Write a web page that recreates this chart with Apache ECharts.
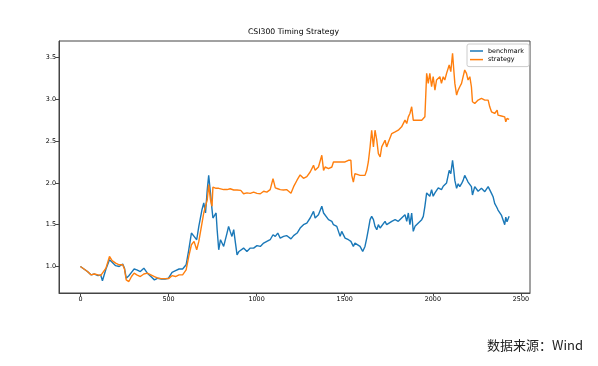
<!DOCTYPE html>
<html>
<head>
<meta charset="utf-8">
<script src="https://cdn.jsdelivr.net/npm/echarts@6/dist/echarts.min.js"></script>
<style>
html,body{margin:0;padding:0;background:#fff;}
#chart{width:598px;height:366px;}
</style>
</head>
<body>
<div id="chart"></div>
<script>
const titleText = 'CSI300 Timing Strategy';
const sourceText = '数据来源：Wind';
const seriesNames = ['benchmark', 'strategy'];
const xTicks = [0, 500, 1000, 1500, 2000, 2500];
const yTicks = [1.0, 1.5, 2.0, 2.5, 3.0, 3.5];

const days = [0,20,40,60,80,100,115,125,145,165,180,200,220,240,250,260,275,290,305,320,340,360,380,400,420,440,460,480,500,520,540,560,580,600,615,630,645,660,672,690,700,710,720,728,738,747,752,760,770,776,785,795,813,832,841,850,860,870,880,889,900,910,926,945,964,983,1002,1021,1040,1058,1077,1093,1106,1120,1134,1153,1170,1181,1195,1210,1230,1247,1266,1285,1304,1323,1332,1351,1370,1380,1389,1408,1427,1436,1455,1474,1483,1502,1521,1535,1540,1549,1558,1568,1587,1602,1615,1625,1634,1644,1653,1663,1672,1682,1691,1701,1710,1729,1738,1748,1767,1786,1804,1823,1842,1852,1861,1870,1880,1889,1899,1918,1937,1946,1955,1965,1974,1983,1993,2002,2012,2021,2031,2040,2049,2059,2068,2078,2093,2102,2112,2119,2125,2135,2144,2153,2163,2172,2181,2191,2200,2210,2219,2225,2238,2257,2276,2295,2314,2323,2333,2342,2351,2361,2365,2370,2380,2389,2399,2408,2414,2421,2433];

const benchmark = [1.00,0.97,0.94,0.90,0.91,0.89,0.90,0.83,0.97,1.08,1.05,1.01,1.00,1.03,0.98,0.86,0.89,0.93,0.97,0.96,0.94,0.98,0.92,0.88,0.84,0.86,0.85,0.85,0.86,0.93,0.95,0.97,0.97,1.02,1.20,1.40,1.36,1.32,1.48,1.68,1.76,1.64,1.92,2.09,1.88,1.68,1.58,1.56,1.64,1.44,1.20,1.32,1.24,1.40,1.48,1.42,1.36,1.44,1.28,1.14,1.18,1.20,1.22,1.18,1.22,1.22,1.25,1.24,1.28,1.30,1.32,1.38,1.36,1.40,1.34,1.36,1.37,1.38,1.33,1.37,1.40,1.46,1.50,1.52,1.58,1.66,1.58,1.62,1.72,1.64,1.62,1.56,1.54,1.50,1.48,1.36,1.42,1.34,1.32,1.30,1.30,1.24,1.28,1.26,1.24,1.18,1.24,1.34,1.44,1.56,1.60,1.56,1.48,1.44,1.50,1.46,1.48,1.54,1.50,1.50,1.54,1.56,1.54,1.58,1.62,1.54,1.64,1.50,1.64,1.42,1.48,1.52,1.56,1.60,1.72,1.88,1.90,1.84,1.92,1.84,1.88,1.90,1.94,1.96,1.92,1.96,1.97,2.00,2.15,2.11,2.27,2.15,2.03,1.935,1.99,1.955,1.99,2.03,2.09,2.05,2.01,2.03,1.955,1.855,1.955,1.90,1.935,1.895,1.955,1.975,1.875,1.835,1.755,1.755,1.70,1.675,1.655,1.615,1.635,1.50,1.59,1.535,1.60];

const strategy = [1.00,0.97,0.94,0.90,0.91,0.90,0.89,0.88,0.98,1.12,1.07,1.04,1.02,1.02,0.97,0.84,0.82,0.88,0.92,0.90,0.88,0.91,0.92,0.90,0.88,0.86,0.855,0.855,0.855,0.89,0.88,0.90,0.90,0.96,1.12,1.26,1.30,1.20,1.30,1.52,1.64,1.72,1.80,1.98,1.80,1.72,1.95,1.935,1.935,1.935,1.935,1.93,1.92,1.92,1.90,1.93,1.92,1.915,1.915,1.915,1.915,1.91,1.87,1.88,1.875,1.89,1.875,1.87,1.90,1.89,1.92,2.05,1.94,1.93,1.92,1.915,1.92,1.915,1.875,1.955,2.035,2.095,2.055,2.075,2.13,2.21,2.15,2.19,2.33,2.15,2.19,2.17,2.19,2.25,2.25,2.25,2.25,2.25,2.27,2.27,2.09,2.01,2.11,2.09,2.09,2.09,2.09,2.15,2.25,2.43,2.63,2.43,2.63,2.51,2.35,2.31,2.43,2.51,2.43,2.49,2.59,2.61,2.63,2.67,2.75,2.71,2.79,2.83,2.91,2.75,2.75,2.75,2.75,2.75,2.79,3.31,3.19,3.31,3.15,3.27,3.11,3.23,3.25,3.27,3.19,3.27,3.23,3.31,3.41,3.33,3.55,3.35,3.19,3.05,3.11,3.15,3.19,3.27,3.35,3.31,3.23,3.27,3.15,2.97,2.95,2.99,3.01,2.99,2.99,2.91,2.85,2.83,2.83,2.83,2.87,2.81,2.81,2.80,2.80,2.79,2.73,2.77,2.76];

const colors = ['#1a78b8', '#ff7f0e'];
const FONT = 'DejaVu Sans';

function pairs(vals) { return days.map((d, i) => [d, vals[i]]); }

const chart = echarts.init(document.getElementById('chart'), null, {renderer: 'canvas'});
chart.setOption({
  animation: false,
  backgroundColor: '#fff',
  title: {
    text: titleText,
    left: 248, top: 28, padding: 0,
    textStyle: {fontFamily: FONT, fontSize: 7.7, fontWeight: 'normal', color: '#000'}
  },
  graphic: [{
    type: 'text', left: 487, top: 339,
    style: {text: sourceText, font: '13px "Noto Sans CJK SC"', fill: '#222'}
  }],
  legend: {
    orient: 'vertical', left: 467, top: 44,
    padding: [4, 5, 4, 3],
    itemWidth: 13, itemHeight: 1.5, itemGap: 2.6,
    icon: 'rect',
    borderColor: '#ccc', borderWidth: 1, borderRadius: 2,
    backgroundColor: 'rgba(255,255,255,0.8)',
    textStyle: {fontFamily: FONT, fontSize: 6.4, color: '#000', padding: [0, 0, 0, 0]},
    data: seriesNames
  },
  grid: {left: 59, right: 68, top: 41, bottom: 73, show: true, borderColor: '#444', borderWidth: 1, containLabel: false},
  xAxis: {
    type: 'value', min: -121.5, max: 2551.5,
    splitLine: {show: false},
    axisLine: {show: true, onZero: false, lineStyle: {color: '#444'}},
    axisTick: {show: true, length: 3.5, customValues: xTicks, lineStyle: {color: '#444'}},
    axisLabel: {customValues: xTicks, fontFamily: FONT, fontSize: 6.4, color: '#000', margin: 3, formatter: v => String(Math.round(v))}
  },
  yAxis: {
    type: 'value', min: 0.683, max: 3.697,
    splitLine: {show: false},
    axisLine: {show: true, onZero: false, lineStyle: {color: '#444'}},
    axisTick: {show: true, length: 3.5, customValues: yTicks, lineStyle: {color: '#444'}},
    axisLabel: {customValues: yTicks, fontFamily: FONT, fontSize: 6.4, color: '#000', margin: 3, formatter: v => v.toFixed(1)}
  },
  series: [
    {name: seriesNames[0], type: 'line', data: pairs(benchmark), showSymbol: false, symbol: 'none', lineStyle: {width: 1.4, color: colors[0]}, itemStyle: {color: colors[0]}},
    {name: seriesNames[1], type: 'line', data: pairs(strategy), showSymbol: false, symbol: 'none', lineStyle: {width: 1.4, color: colors[1]}, itemStyle: {color: colors[1]}}
  ]
});
</script>
</body>
</html>
